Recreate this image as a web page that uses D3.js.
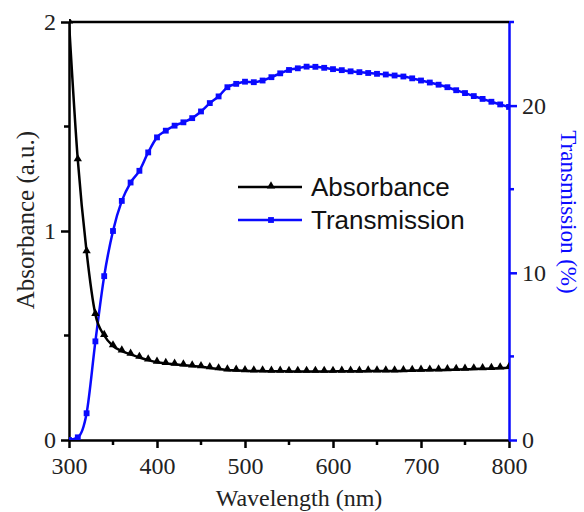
<!DOCTYPE html>
<html><head><meta charset="utf-8">
<script src="https://cdn.jsdelivr.net/npm/d3@7"></script>
<style>
body{margin:0;background:#fff;}
svg{display:block;}
</style></head>
<body>
<svg id="c" width="584" height="512"></svg>
<script>
const wavelength = d3.range(300, 801, 10);
const absorbance = [2.0,1.34,0.90,0.60,0.50,0.45,0.425,0.41,0.395,0.382,0.372,0.366,0.362,0.358,0.354,0.350,0.345,0.340,0.335,0.333,0.331,0.330,0.330,0.329,0.329,0.328,0.328,0.328,0.328,0.328,0.328,0.329,0.329,0.329,0.330,0.330,0.330,0.330,0.331,0.332,0.333,0.334,0.335,0.336,0.337,0.338,0.340,0.341,0.342,0.344,0.346];
const transmission = [0.0,0.16,1.6,5.9,9.8,12.5,14.3,15.4,16.1,17.2,18.1,18.5,18.8,19.0,19.25,19.65,20.15,20.55,21.1,21.3,21.43,21.4,21.5,21.7,21.93,22.13,22.23,22.33,22.32,22.26,22.18,22.12,22.05,22.0,21.95,21.9,21.86,21.8,21.74,21.63,21.5,21.38,21.25,21.1,20.92,20.75,20.57,20.4,20.23,20.07,19.92];
const xTicks = [300,400,500,600,700,800];
const yLeftTicks = [0,1,2];
const yRightTicks = [0,10,20];
const seriesNames = ["Absorbance","Transmission"];
const xLabel = "Wavelength (nm)";
const yLeftLabel = "Absorbance (a.u.)";
const yRightLabel = "Transmission (%)";

const SERIF = '"Liberation Serif","Times New Roman",Times,serif';
const SANS = '"Liberation Sans",Arial,Helvetica,sans-serif';
const L=69,R=509,T=22,B=440;
const blue="#0a0aff";
const svg=d3.select("#c");
const x=d3.scaleLinear().domain([300,800]).range([L,R]);
const yl=d3.scaleLinear().domain([0,2]).range([B,T]);
const yr=d3.scaleLinear().domain([0,25]).range([B,T]);

svg.append("defs").append("clipPath").attr("id","pc").append("rect").attr("x",L).attr("y",T-3).attr("width",R-L).attr("height",B-T+3);

function minor(g, ticks, fn, color){
  g.selectAll(null).data(ticks).enter().append("line")
   .attr("stroke",color).attr("stroke-width",2.5).each(function(d){fn(d3.select(this),d);});
}
const gm=svg.append("g");
minor(gm,[350,450,550,650,750],(s,d)=>s.attr("x1",x(d)).attr("x2",x(d)).attr("y1",B).attr("y2",B+5),"#000");
minor(gm,[0.5,1.5],(s,d)=>s.attr("x1",L).attr("x2",L-5).attr("y1",yl(d)).attr("y2",yl(d)),"#000");
minor(gm,[5,15,25],(s,d)=>s.attr("x1",R).attr("x2",R+5).attr("y1",yr(d)).attr("y2",yr(d)),blue);

const gx=svg.append("g").attr("transform",`translate(0,${B})`)
 .call(d3.axisBottom(x).tickValues(xTicks).tickSize(8).tickPadding(6).tickSizeOuter(0));
const gyl=svg.append("g").attr("transform",`translate(${L},0)`)
 .call(d3.axisLeft(yl).tickValues(yLeftTicks).tickFormat(d3.format("d")).tickSize(8).tickPadding(5).tickSizeOuter(0));
const gyr=svg.append("g").attr("transform",`translate(${R},0)`)
 .call(d3.axisRight(yr).tickValues(yRightTicks).tickSize(8).tickPadding(5).tickSizeOuter(0));
[gx,gyl,gyr].forEach(g=>{g.attr("font-family",SERIF).attr("font-size",24);
  g.selectAll("text").style("font-family",SERIF).style("font-size","24px").attr("fill","#222");});
[gx,gyl].forEach(g=>g.selectAll("path,line").attr("stroke","#000").attr("stroke-width",2.5));
gyr.selectAll("path,line").attr("stroke",blue).attr("stroke-width",2.5);
gx.selectAll("text").attr("dy","0.85em");
svg.append("line").attr("x1",L).attr("x2",R).attr("y1",T).attr("y2",T).attr("stroke","#000").attr("stroke-width",2.5);

const gd=svg.append("g").attr("clip-path","url(#pc)");
const lineA=d3.line().x((d,i)=>x(wavelength[i])).y(d=>yl(d)).curve(d3.curveMonotoneX);
const lineT=d3.line().x((d,i)=>x(wavelength[i])).y(d=>yr(d)).curve(d3.curveMonotoneX);
gd.append("path").attr("d",lineT(transmission)).attr("fill","none").attr("stroke",blue).attr("stroke-width",2.5);
gd.append("path").attr("d",lineA(absorbance)).attr("fill","none").attr("stroke","#000").attr("stroke-width",2.5);
const tri=d3.symbol().type(d3.symbolTriangle).size(30);
const sq=d3.symbol().type(d3.symbolSquare).size(34);
gd.selectAll(".t").data(absorbance).enter().append("path")
 .attr("d",tri).attr("transform",(d,i)=>`translate(${x(wavelength[i])},${yl(d)-1})`).attr("fill","#000");
gd.selectAll(".s").data(transmission).enter().append("path")
 .attr("d",sq).attr("transform",(d,i)=>`translate(${x(wavelength[i])},${yr(d)})`).attr("fill",blue);

const lg=svg.append("g");
const ly=[187,220];
const cols=["#000",blue];
const syms=[tri,sq];
seriesNames.forEach((n,i)=>{
  lg.append("line").attr("x1",238).attr("x2",302).attr("y1",ly[i]).attr("y2",ly[i]).attr("stroke",cols[i]).attr("stroke-width",2.5);
  lg.append("path").attr("d",syms[i]).attr("transform",`translate(271,${ly[i]-(i==0?1:0)})`).attr("fill",cols[i]);
  lg.append("text").attr("x",311).attr("y",ly[i]).attr("dy","0.36em").text(n)
   .style("font-family",SANS).style("font-size","26px").attr("fill","#111");
});

svg.append("text").attr("x",299).attr("y",506).attr("text-anchor","middle").text(xLabel)
 .style("font-family",SERIF).style("font-size","24px").attr("fill","#222");
svg.append("text").attr("transform","translate(34,220) rotate(-90)").attr("text-anchor","middle").text(yLeftLabel)
 .style("font-family",SERIF).style("font-size","25px").attr("fill","#222");
svg.append("text").attr("transform","translate(561,212) rotate(90)").attr("text-anchor","middle").text(yRightLabel)
 .style("font-family",SERIF).style("font-size","23px").attr("fill",blue);
</script>
</body></html>
